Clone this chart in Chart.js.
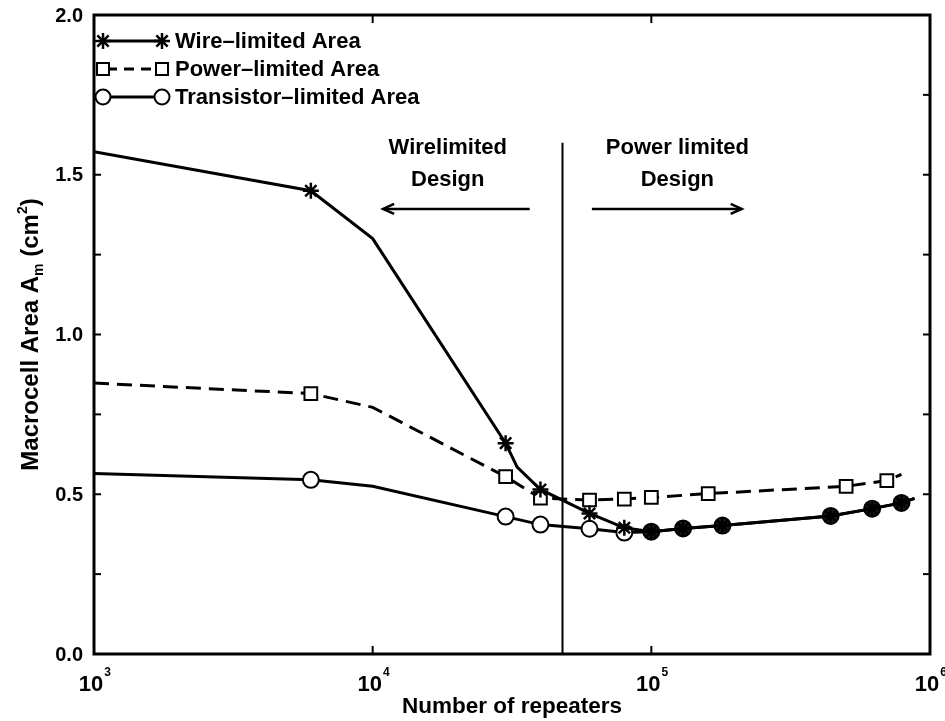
<!DOCTYPE html>
<html><head><meta charset="utf-8">
<script src="https://cdn.jsdelivr.net/npm/chart.js@4.4.0/dist/chart.umd.min.js"></script>
<style>html,body{margin:0;padding:0;background:#fff;}canvas{display:block;}</style>
</head><body>
<canvas id="c" width="945" height="721"></canvas>
<script>
// ---- data ----
const xTickValues = [1e3, 1e4, 1e5, 1e6];
const xTickExponents = ['3', '4', '5', '6'];
const xInnerTicks = [1e4, 1e5];
const yTickValues = [0, 0.5, 1.0, 1.5, 2.0];
const yTickLabels = ['0.0', '0.5', '1.0', '1.5', '2.0'];
const yMinorTicks = [0.25, 0.75, 1.25, 1.75];

// Wire-limited area: marked points and unmarked bends of the curve
const wireMarkX = [6e3, 3e4, 4e4, 6e4, 8e4, 1e5, 1.3e5, 1.8e5, 4.4e5, 6.2e5, 7.9e5];
const wireMarkY = [1.45, 0.66, 0.515, 0.44, 0.395, 0.383, 0.393, 0.402, 0.432, 0.455, 0.473];
const wireBendX = [1e3, 1e4, 3.3e4, 8.8e5];
const wireBendY = [1.572, 1.30, 0.585, 0.487];

// Power-limited area
const powerMarkX = [6e3, 3e4, 4e4, 6e4, 8e4, 1e5, 1.6e5, 5e5, 7e5];
const powerMarkY = [0.815, 0.555, 0.488, 0.482, 0.485, 0.49, 0.502, 0.525, 0.543];
const powerBendX = [1e3, 1e4, 7.9e5];
const powerBendY = [0.848, 0.772, 0.562];

// Transistor-limited area
const transMarkX = [6e3, 3e4, 4e4, 6e4, 8e4, 1e5, 1.3e5, 1.8e5, 4.4e5, 6.2e5, 7.9e5];
const transMarkY = [0.545, 0.43, 0.405, 0.392, 0.38, 0.383, 0.393, 0.402, 0.432, 0.455, 0.473];
const transBendX = [1e3, 1e4, 8.8e5];
const transBendY = [0.565, 0.525, 0.487];

// Region divider and annotations
const dividerX = 4.8e4;
const dividerTop = 1.60;
const wireArrow = [3.66e4, 1.09e4, 1.393];   // from x, to x, y
const powerArrow = [6.12e4, 2.11e5, 1.393];
const wireText = ['Wirelimited', 'Design'];
const wireTextPos = [1.86e4, 1.585, 1.484];  // x, y line1, y line2
const powerText = ['Power limited', 'Design'];
const powerTextPos = [1.24e5, 1.585, 1.484];

const legendLabels = ['Wire\u2013limited Area', 'Power\u2013limited Area', 'Transistor\u2013limited Area'];

// ---- helpers ----
function pts(xs, ys) { return xs.map((v, i) => ({ x: v, y: ys[i] })); }
function curve(mx, my, bx, by) { return pts(mx, my).concat(pts(bx, by)).sort((a, b) => a.x - b.x); }
function sharedWithWire(p) {
  return wireMarkX.some((v, i) => v === p.x && Math.abs(wireMarkY[i] - p.y) < 0.006);
}

const FONT = '"Liberation Sans", Arial, Helvetica, sans-serif';
const DASH = [15, 8];

const decor = {
  id: 'decor',
  afterDraw(chart) {
    const { ctx, chartArea: a, scales: { x, y } } = chart;
    const H = Chart.helpers;
    ctx.save();
    ctx.strokeStyle = '#000';
    ctx.fillStyle = '#000';
    function seg(x1, y1, x2, y2) { ctx.beginPath(); ctx.moveTo(x1, y1); ctx.lineTo(x2, y2); ctx.stroke(); }

    // frame
    ctx.lineWidth = 3;
    ctx.strokeRect(a.left, a.top, a.right - a.left, a.bottom - a.top);

    // inward ticks
    ctx.lineWidth = 2;
    xInnerTicks.forEach(v => {
      const px = x.getPixelForValue(v);
      seg(px, a.bottom, px, a.bottom - 8);
      seg(px, a.top, px, a.top + 8);
    });
    yTickValues.concat(yMinorTicks).forEach(v => {
      const py = y.getPixelForValue(v);
      seg(a.left, py, a.left + 7, py);
      seg(a.right, py, a.right - 7, py);
    });

    // y tick labels
    ctx.font = 'bold 20px ' + FONT;
    ctx.textAlign = 'right';
    ctx.textBaseline = 'middle';
    yTickValues.forEach((v, i) => ctx.fillText(yTickLabels[i], a.left - 11, y.getPixelForValue(v) + 1));

    // x tick labels: 10 with superscript exponent
    xTickValues.forEach((v, i) => {
      const px = x.getPixelForValue(v) - 3;
      ctx.font = 'bold 22px ' + FONT;
      ctx.textAlign = 'center';
      ctx.textBaseline = 'alphabetic';
      const w = ctx.measureText('10').width;
      ctx.fillText('10', px, a.bottom + 37);
      ctx.font = 'bold 12px ' + FONT;
      ctx.textAlign = 'left';
      ctx.fillText(xTickExponents[i], px + w / 2 + 1, a.bottom + 22);
    });

    // x title
    ctx.font = 'bold 22.5px ' + FONT;
    ctx.textAlign = 'center';
    ctx.textBaseline = 'alphabetic';
    ctx.fillText('Number of repeaters', (a.left + a.right) / 2, a.bottom + 59);

    // y title (rotated, with sub/superscript)
    ctx.save();
    ctx.translate(38, (a.top + a.bottom) / 2);
    ctx.rotate(-Math.PI / 2);
    const big = 'bold 24px ' + FONT, small = 'bold 14px ' + FONT;
    const parts = [['Macrocell Area A', big, 0], ['m', small, 5], [' (cm', big, 0], ['2', small, -11], [')', big, 0]];
    let total = 0;
    parts.forEach(p => { ctx.font = p[1]; total += ctx.measureText(p[0]).width; });
    let cx = -total / 2;
    ctx.textAlign = 'left';
    ctx.textBaseline = 'alphabetic';
    parts.forEach(p => { ctx.font = p[1]; ctx.fillText(p[0], cx, p[2]); cx += ctx.measureText(p[0]).width; });
    ctx.restore();

    // region texts
    ctx.font = 'bold 22px ' + FONT;
    ctx.textAlign = 'center';
    ctx.textBaseline = 'middle';
    [[wireText, wireTextPos], [powerText, powerTextPos]].forEach(([t, p]) => {
      const px = x.getPixelForValue(p[0]);
      ctx.fillText(t[0], px, y.getPixelForValue(p[1]));
      ctx.fillText(t[1], px, y.getPixelForValue(p[2]));
    });

    // arrows
    ctx.lineWidth = 2.5;
    [wireArrow, powerArrow].forEach(ar => {
      const x1 = x.getPixelForValue(ar[0]), x2 = x.getPixelForValue(ar[1]), py = y.getPixelForValue(ar[2]);
      seg(x1, py, x2, py);
      const d = x2 > x1 ? -1 : 1;
      ctx.beginPath();
      ctx.moveTo(x2 + d * 11, py - 5);
      ctx.lineTo(x2, py);
      ctx.lineTo(x2 + d * 11, py + 5);
      ctx.stroke();
    });

    // legend
    const rows = [a.top + 26, a.top + 54, a.top + 82];
    const lx1 = a.left + 9, lx2 = a.left + 68, tx = a.left + 81;
    const styles = [
      { ps: 'star', r: 8, dash: [] },
      { ps: 'rect', r: 8.5, dash: [10, 7] },
      { ps: 'circle', r: 7.5, dash: [] }
    ];
    styles.forEach((s, i) => {
      const ry = rows[i];
      ctx.lineWidth = 3;
      ctx.setLineDash(s.dash);
      if (s.dash.length) { ctx.lineDashOffset = -4; }
      seg(lx1, ry, lx2, ry);
      ctx.setLineDash([]);
      ctx.lineWidth = s.ps === 'star' ? 2.5 : 2;
      ctx.fillStyle = '#fff';
      [lx1, lx2].forEach(px => H.drawPoint(ctx, { pointStyle: s.ps, radius: s.r, borderWidth: 2, rotation: 0 }, px, ry));
      ctx.fillStyle = '#000';
      ctx.font = 'bold 22px ' + FONT;
      ctx.textAlign = 'left';
      ctx.textBaseline = 'middle';
      ctx.fillText(legendLabels[i], tx, ry + 1);
    });
    ctx.restore();
  }
};

const lineBase = { showLine: true, borderColor: '#000', borderWidth: 3, pointRadius: 0, fill: false, tension: 0 };
const markBase = { showLine: false, borderColor: '#000', pointBorderColor: '#000', pointBorderWidth: 2 };

new Chart(document.getElementById('c'), {
  type: 'scatter',
  data: {
    datasets: [
      Object.assign({ label: 'Wire-limited marks', data: pts(wireMarkX, wireMarkY), pointStyle: 'star', pointRadius: 8, pointBackgroundColor: '#000' }, markBase, { pointBorderWidth: 2.5 }),
      Object.assign({ label: 'Wire-limited Area', data: curve(wireMarkX, wireMarkY, wireBendX, wireBendY) }, lineBase),
      Object.assign({ label: 'Transistor marks', data: pts(transMarkX, transMarkY), pointStyle: 'circle', pointRadius: 8,
        pointBackgroundColor: c => (c.raw && sharedWithWire(c.raw)) ? '#1a1a1a' : '#fff' }, markBase),
      Object.assign({ label: 'Transistor-limited Area', data: curve(transMarkX, transMarkY, transBendX, transBendY) }, lineBase),
      Object.assign({ label: 'Power marks', data: pts(powerMarkX, powerMarkY), pointStyle: 'rect', pointRadius: 9, pointBackgroundColor: '#fff' }, markBase),
      Object.assign({ label: 'Power-limited Area', data: curve(powerMarkX, powerMarkY, powerBendX, powerBendY), borderDash: DASH }, lineBase),
      Object.assign({ label: 'divider', data: [{ x: dividerX, y: 0 }, { x: dividerX, y: dividerTop }] }, lineBase, { borderWidth: 2 })
    ]
  },
  options: {
    responsive: false,
    animation: false,
    devicePixelRatio: 1,
    layout: { padding: { left: 94, right: 15, top: 15, bottom: 67 } },
    plugins: { legend: { display: false }, tooltip: { enabled: false } },
    scales: {
      x: {
        type: 'logarithmic', min: 1e3, max: 1e6,
        ticks: { display: false }, grid: { display: false, drawTicks: false }, border: { display: false }, title: { display: false }
      },
      y: {
        type: 'linear', min: 0, max: 2,
        ticks: { display: false }, grid: { display: false, drawTicks: false }, border: { display: false }, title: { display: false }
      }
    }
  },
  plugins: [decor]
});
</script>
</body></html>
